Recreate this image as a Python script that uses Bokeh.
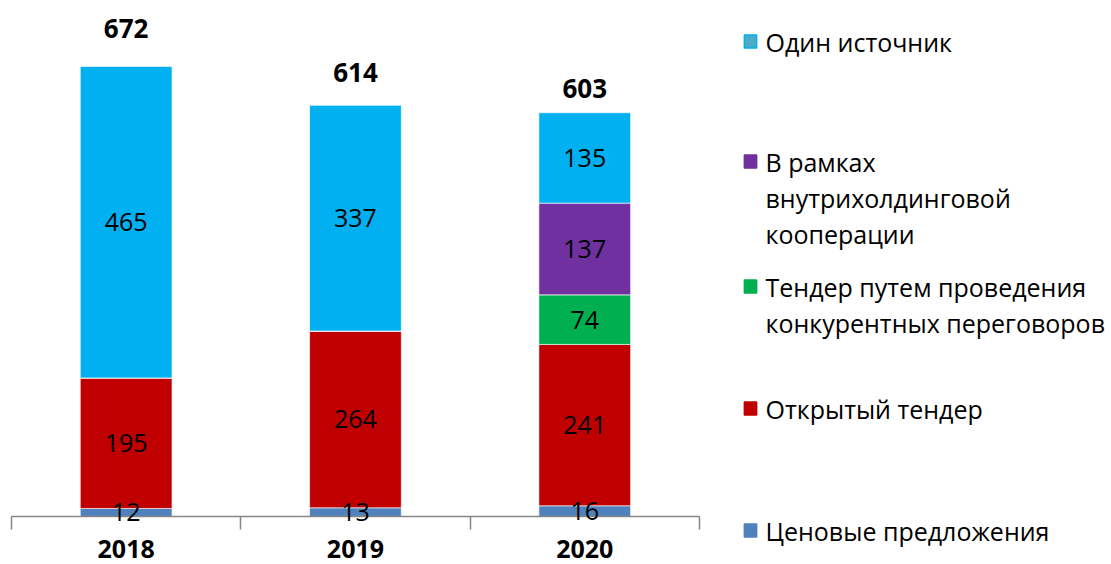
from bokeh.plotting import figure
from bokeh.models import Range1d, FixedTicker, ColumnDataSource
from bokeh.core.properties import value
from bokeh.embed import file_html
from bokeh.resources import INLINE

years = ["2018", "2019", "2020"]
tsenovye = [12, 13, 16]
otkryty = [195, 264, 241]
konkurent = [0, 0, 74]
vnutri = [0, 0, 137]
odin = [465, 337, 135]
totals = [672, 614, 603]

series_names = ["Ценовые предложения", "Открытый тендер",
                "Тендер путем проведения\nконкурентных переговоров",
                "В рамках\nвнутрихолдинговой\nкооперации", "Один источник"]
series_vals = [tsenovye, otkryty, konkurent, vnutri, odin]
colors = ["#4F81BD", "#C00000", "#00B050", "#7030A0", "#00B0F0"]

FONT = "Open Sans"

# layout (pixels)
W, H = 1108, 563
FL, FB = 11, 516          # frame left, frame bottom (canvas px)
CAT_PX = 229.3            # px per category
PX_PER_UNIT = 0.6696      # px per data unit
x_end = (W - FL) / CAT_PX
y_end = FB / PX_PER_UNIT
total_offsets = [-38, -33, -24]   # label placement (px)

xs = [i + 0.5 for i in range(len(years))]
keys = ["s%d" % i for i in range(len(series_vals))]
data = {"x": xs}
for k, v in zip(keys, series_vals):
    data[k] = v
src = ColumnDataSource(data)

p = figure(width=W, height=H, x_range=Range1d(0, x_end), y_range=Range1d(0, y_end),
           output_backend="svg", toolbar_location=None, y_axis_location=None,
           min_border_left=FL, min_border_right=0, min_border_top=0,
           min_border_bottom=H - FB)
p.vbar_stack(keys, x="x", width=0.4, color=colors, line_color="white",
             line_width=0.6, source=src)

# segment labels
lx, ly, lt = [], [], []
for j in range(len(years)):
    base = 0
    for v in series_vals:
        if v[j] > 0:
            lx.append(xs[j]); ly.append(base + v[j] / 2); lt.append(str(v[j]))
        base += v[j]
rs = p.text(x=lx, y=ly, text=lt, text_align="center", text_baseline="middle",
            text_font=value(FONT), text_font_size="25px", text_color="#000000")
rs.level = "annotation"
# totals
tsrc = ColumnDataSource(dict(x=xs, y=totals, t=[str(t) for t in totals],
                             off=total_offsets))
p.text(x="x", y="y", text="t", y_offset="off", source=tsrc, text_align="center",
       text_baseline="middle", text_font=value(FONT),
       text_font_size="26px", text_font_style="bold", text_color="#000000")

ax = p.xaxis[0]
ax.bounds = (0, len(years))
ax.ticker = FixedTicker(ticks=xs, minor_ticks=list(range(len(years) + 1)))
ax.major_label_overrides = {x: y for x, y in zip(xs, years)}
ax.major_tick_line_color = None
ax.major_tick_out = 0
ax.major_tick_in = 0
ax.minor_tick_out = 13
ax.minor_tick_in = 0
ax.minor_tick_line_color = "#868686"
ax.minor_tick_line_width = 1.5
ax.axis_line_color = "#868686"
ax.axis_line_width = 1.5
ax.major_label_standoff = 10
ax.major_label_text_font = FONT
ax.major_label_text_font_size = "25px"
ax.major_label_text_font_style = "bold"
ax.major_label_text_color = "#000000"
p.xgrid.visible = False
p.ygrid.visible = False
p.outline_line_color = None

# legend (top to bottom), positions in canvas px converted to data units
leg_names = series_names[::-1]
leg_colors = colors[::-1]
leg_fill = ["#4BACC6"] + leg_colors[1:]
leg_py = [41, 161, 286, 408, 530]
LINE_PX = 36
sq_cx = 750

def to_x(px):
    return (px - FL) / CAT_PX

def to_y(py):
    return (FB - py) / PX_PER_UNIT

# legend swatches: tiny blank text with padded filled box
sw = ColumnDataSource(dict(x=[to_x(sq_cx)] * len(leg_py), y=[to_y(v) for v in leg_py],
                           t=["\u00a0"] * len(leg_py), fc=leg_fill, lc=leg_colors))
r1 = p.text(x="x", y="y", text="t", source=sw, text_align="center",
            text_baseline="middle", text_font_size="1px", text_color=None,
            background_fill_color="fc", border_line_color="lc",
            border_line_width=1.5, padding=6)
r1.level = "annotation"

tx, ty, tt = [], [], []
for name, y0 in zip(leg_names, leg_py):
    for i, line in enumerate(name.split("\n")):
        tx.append(to_x(765)); ty.append(to_y(y0 + i * LINE_PX)); tt.append(line)
r2 = p.text(x=tx, y=ty, text=tt, text_align="left", text_baseline="middle",
            text_font=value(FONT), text_font_size="25px", text_color="#000000")
r2.level = "annotation"

open("out.html", "w").write(file_html(p, INLINE))
